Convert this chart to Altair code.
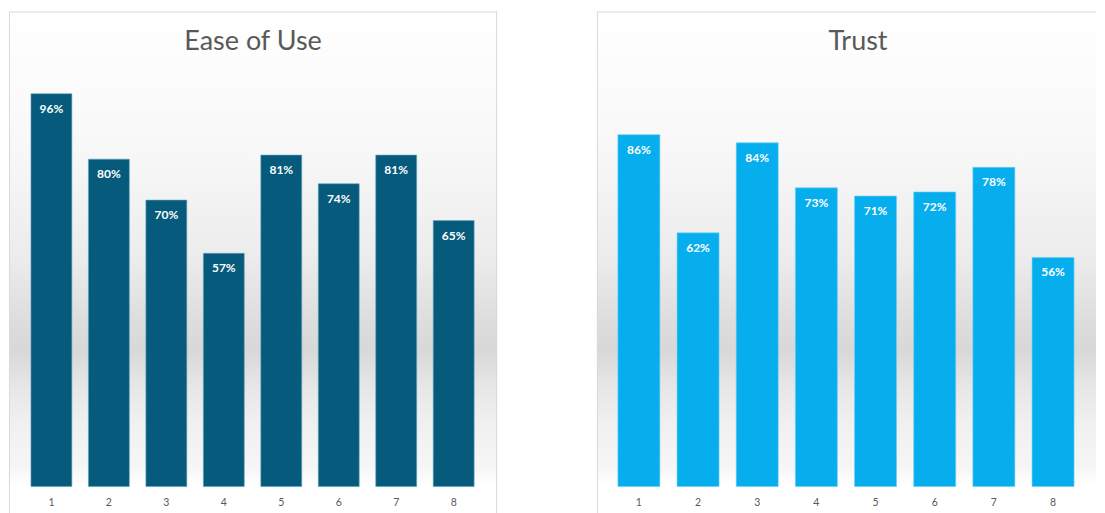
import altair as alt
import pandas as pd

categories = ["1", "2", "3", "4", "5", "6", "7", "8"]
ease_values = [96, 80, 70, 57, 81, 74, 81, 65]
trust_values = [86, 62, 84, 73, 71, 72, 78, 56]
titles = ["Ease of Use", "Trust"]
bar_colors = ["#065B7D", "#07AEEE"]

FONT = "Lato"
TEXT_GREY = "#595959"
BORDER = "#d9d9d9"
H = 506

grad = alt.LinearGradient(
    gradient="linear", x1=0, y1=0, x2=0, y2=1,
    stops=[
        alt.GradientStop(offset=0.0, color="#ffffff"),
        alt.GradientStop(offset=0.27, color="#f8f8f8"),
        alt.GradientStop(offset=0.49, color="#ececec"),
        alt.GradientStop(offset=0.61, color="#dedede"),
        alt.GradientStop(offset=0.675, color="#d8d8d8"),
        alt.GradientStop(offset=0.745, color="#e6e6e6"),
        alt.GradientStop(offset=0.82, color="#f0f0f0"),
        alt.GradientStop(offset=0.91, color="#f6f6f6"),
        alt.GradientStop(offset=0.945, color="#ffffff"),
        alt.GradientStop(offset=1.0, color="#ffffff"),
    ],
)


def panel(values, color, title, width, title_x, x_range, pad_inner, right_border):
    df = pd.DataFrame({"cat": categories, "value": values})
    base = alt.Chart(df)
    one = alt.Chart(pd.DataFrame({"k": [0]}))
    x_enc = alt.X("cat:N", sort=categories, axis=None,
                  scale=alt.Scale(range=x_range, paddingInner=pad_inner, paddingOuter=0))
    y_enc = alt.Y("value:Q", axis=None,
                  scale=alt.Scale(domain=[0, 100], range=[479, 69], nice=False, zero=True))

    bg = one.mark_rect(color=grad).encode(
        x=alt.value(0), x2=alt.value(width), y=alt.value(3), y2=alt.value(H))
    top = one.mark_rule(color=BORDER, strokeWidth=1).encode(
        x=alt.value(0), x2=alt.value(width), y=alt.value(3.5))
    left = one.mark_rule(color=BORDER, strokeWidth=1).encode(
        x=alt.value(0.5), y=alt.value(3), y2=alt.value(H))
    layers = [bg, top, left]
    if right_border:
        layers.append(one.mark_rule(color=BORDER, strokeWidth=1).encode(
            x=alt.value(width - 0.5), y=alt.value(3), y2=alt.value(H)))

    ttl = one.mark_text(text=title, font=FONT, fontSize=27, color=TEXT_GREY).encode(
        x=alt.value(title_x), y=alt.value(34))
    bars = base.mark_bar(color=color, stroke="#5fa3c0" if color == bar_colors[0] else "#6fd0f5",
                         strokeWidth=0.6).encode(x=x_enc, y=y_enc)
    vlabels = base.transform_calculate(label="datum.value + '%'").mark_text(
        font=FONT, fontWeight="bold", fontSize=12, color="white", dy=15
    ).encode(x=x_enc, y=y_enc, text="label:N")
    axlabels = base.mark_text(font=FONT, fontSize=10.5, color=TEXT_GREY).encode(
        x=x_enc, y=alt.value(495), text="cat:N")

    layers += [ttl, bars, vlabels, axlabels]
    return alt.layer(*layers).properties(width=width, height=H)


left_panel = panel(ease_values, bar_colors[0], titles[0], 489, 244.5, [22, 466], 0.288, True)
right_panel = panel(trust_values, bar_colors[1], titles[1], 500, 261.5, [21, 478], 0.29, False)

chart = alt.hconcat(left_panel, right_panel, spacing=98).properties(
    padding=0, background="white"
).configure_view(stroke=None)

chart.save("out.html", embed_options={"renderer": "svg", "actions": False})
